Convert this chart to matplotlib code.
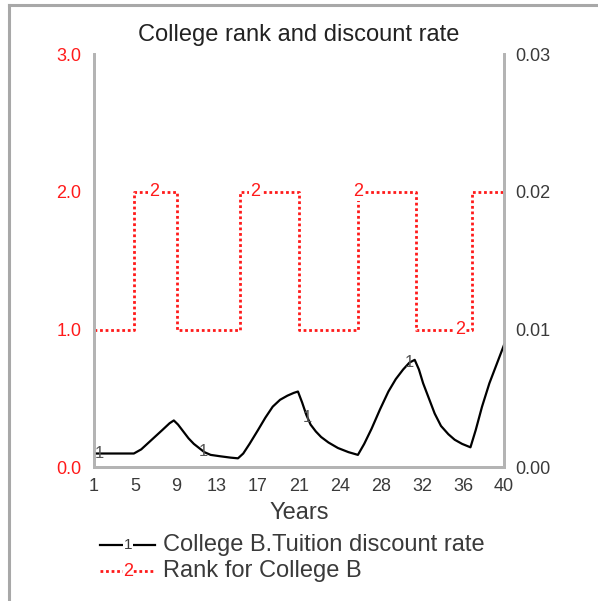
import numpy as np
import matplotlib
matplotlib.use("Agg")
import matplotlib.pyplot as plt
from matplotlib.lines import Line2D

plt.rcParams['font.family'] = ['Liberation Sans', 'DejaVu Sans']

# discount rate (right axis)
disc_years = [1, 4.8, 5.5, 6.5, 7.5, 8.2, 8.6,
              9.0, 9.5, 10.0, 10.5, 11.0, 11.5, 12.1, 13.0, 14.0, 14.7,
              15.2, 15.8, 16.6, 17.3, 18.0, 18.7, 19.4, 20.0, 20.4,
              20.8, 21.2, 21.6, 22.1, 22.6, 23.3, 24.2, 25.2, 26.1,
              26.7, 27.4, 28.2, 29.0, 29.7, 30.4, 31.0, 31.5,
              31.9, 32.3, 32.8, 33.4, 34.0, 34.7, 35.3, 36.0, 36.8,
              37.3, 37.9, 38.6, 39.3, 40]
disc_rate = [0.0010, 0.0010, 0.0013, 0.0020, 0.0027, 0.0032, 0.0034,
             0.0031, 0.0026, 0.0021, 0.0017, 0.0014, 0.0011, 0.0009, 0.0008, 0.0007, 0.00065,
             0.0010, 0.0017, 0.0027, 0.0036, 0.0044, 0.0049, 0.0052, 0.0054, 0.0055,
             0.0047, 0.0038, 0.0031, 0.0026, 0.0022, 0.0018, 0.0014, 0.0011, 0.0009,
             0.0017, 0.0028, 0.0042, 0.0055, 0.0064, 0.0071, 0.0076, 0.0078,
             0.0071, 0.0061, 0.0051, 0.0039, 0.0030, 0.0024, 0.0020, 0.0017, 0.00145,
             0.0027, 0.0044, 0.0061, 0.0075, 0.0089]

# rank (left axis), step changes
rank_years = [1, 4.8, 8.9, 14.9, 20.5, 26.1, 31.6, 36.9, 40]
rank_vals = [1, 2, 1, 2, 1, 2, 1, 2, 2]

disc_marker_years = [1.5, 11.4, 21.3, 31.0]
rank_marker_years = [6.7, 16.3, 26.15, 35.8]

x_tick_labels = ["1", "5", "9", "13", "17", "21", "24", "28", "32", "36", "40"]
left_ticks = [0, 1, 2, 3]
left_labels = ["0.0", "1.0", "2.0", "3.0"]
right_ticks = [0, 0.01, 0.02, 0.03]
right_labels = ["0.00", "0.01", "0.02", "0.03"]

RED = "#ff1a1a"
GRAY = "#b4b4b4"
TXT = "#3a3a3a"
DOTS = (0, (1, 1))

fig = plt.figure(figsize=(5.98, 6.01), dpi=100)
ax = fig.add_axes([0.157, 0.2225, 0.686, 0.6875])
ax2 = ax.twinx()

ax.step(rank_years, rank_vals, where="post", color=RED, lw=2.0, linestyle=DOTS)
ax2.plot(disc_years, disc_rate, color="black", lw=1.6)

ax.set_xlim(1, 40)
ax.set_ylim(0, 3)
ax2.set_ylim(0, 0.03)

xt = np.linspace(1, 40, len(x_tick_labels))
ax.set_xticks(xt)
ax.set_xticklabels(x_tick_labels)
ax.set_yticks(left_ticks)
ax.set_yticklabels(left_labels)
ax2.set_yticks(right_ticks)
ax2.set_yticklabels(right_labels)

ax.tick_params(axis="x", length=0, pad=8, labelsize=13, labelcolor=TXT)
ax.tick_params(axis="y", length=0, pad=9, labelsize=13, labelcolor=RED)
ax2.tick_params(axis="y", length=0, pad=8, labelsize=13, labelcolor=TXT)

for a in (ax, ax2):
    a.spines["top"].set_visible(False)
    for s in ("left", "right", "bottom"):
        a.spines[s].set_color(GRAY)
        a.spines[s].set_linewidth(2)

# series number markers on the lines
for yr in rank_marker_years:
    yv = rank_vals[np.searchsorted(rank_years, yr, side="right") - 1]
    ax.text(yr, yv, "2", color=RED, fontsize=13, ha="center", va="center",
            bbox=dict(facecolor="white", edgecolor="none", pad=0.5))
for yr in disc_marker_years:
    yv = np.interp(yr, disc_years, disc_rate)
    ax2.text(yr, yv, "1", color="#555555", fontsize=12, ha="center", va="center")

fig.text(0.5, 0.942, "College rank and discount rate", ha="center", va="center",
         fontsize=17, color="#222222")
fig.text(0.5, 0.147, "Years", ha="center", va="center", fontsize=17, color=TXT)

# legend drawn by hand, Vensim style
leg_y = [1 - 545 / 601, 1 - 571 / 601]
fig.add_artist(Line2D([100 / 598, 155 / 598], [leg_y[0]] * 2, color="black", lw=1.6))
fig.text(128 / 598, leg_y[0], "1", ha="center", va="center", fontsize=11, color=TXT,
         bbox=dict(facecolor="white", edgecolor="none", pad=0.3))
fig.add_artist(Line2D([100 / 598, 155 / 598], [leg_y[1]] * 2, color=RED, lw=2.0,
                      linestyle=DOTS))
fig.text(128 / 598, leg_y[1], "2", ha="center", va="center", fontsize=13, color=RED,
         bbox=dict(facecolor="white", edgecolor="none", pad=0.3))
fig.text(163 / 598, leg_y[0], "College B.Tuition discount rate", ha="left", va="center",
         fontsize=17, color=TXT)
fig.text(163 / 598, leg_y[1], "Rank for College B", ha="left", va="center",
         fontsize=17, color=TXT)

# outer frame (top and left edges visible)
fig.add_artist(Line2D([8.5 / 598, 1], [1 - 4.5 / 601] * 2, color="#a8a8a8", lw=2.2))
fig.add_artist(Line2D([8.5 / 598] * 2, [0, 1 - 4.5 / 601], color="#a8a8a8", lw=2.2))

fig.savefig("out.png", dpi=100, facecolor="white")
